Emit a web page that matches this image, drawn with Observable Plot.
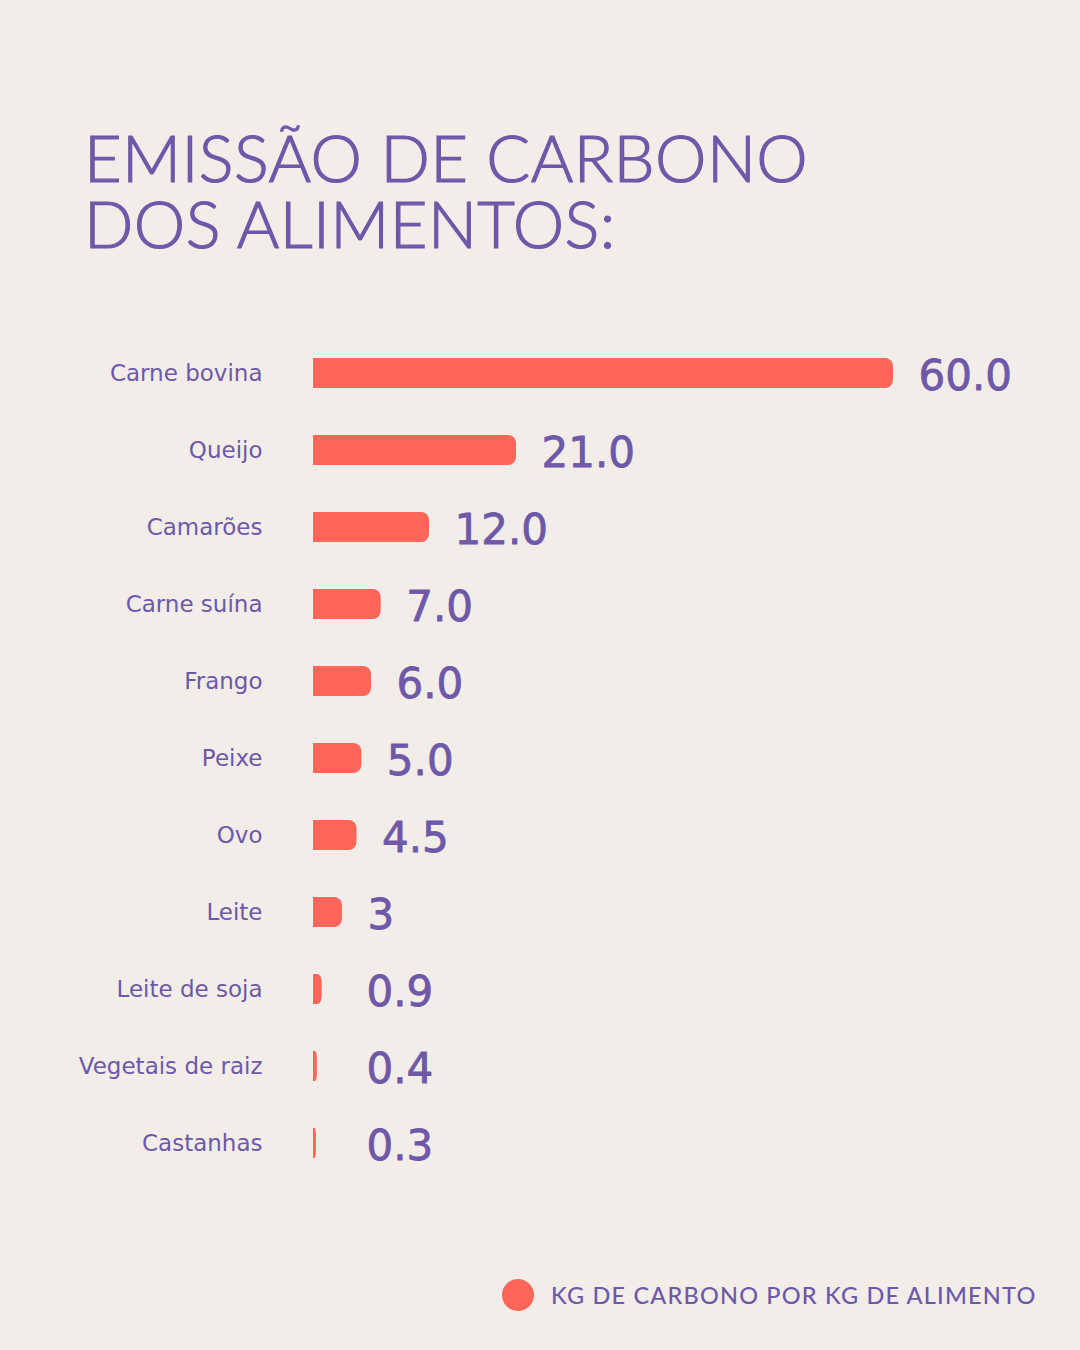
<!DOCTYPE html>
<html>
<head>
<meta charset="utf-8">
<script src="https://cdn.jsdelivr.net/npm/d3@7"></script>
<script src="https://cdn.jsdelivr.net/npm/@observablehq/plot@0.6"></script>
<style>
  html, body { margin: 0; padding: 0; background: #f2ede8; }
  body { width: 1080px; height: 1350px; position: relative; overflow: hidden; font-family: Lato, "Open Sans", sans-serif; }
  #title { position: absolute; left: 84px; top: 124px; color: #6e58a8; font-family: "Lato", sans-serif; font-weight: 300; font-size: 65px; line-height: 66px; letter-spacing: 0.4px; text-transform: uppercase; margin: 0; -webkit-text-stroke: 1.2px #6e58a8; }
  #title div { height: 66px; }
  #chart { position: absolute; left: 0; top: 300px; }
  #legend { position: absolute; left: 502px; top: 1279px; display: flex; align-items: center; gap: 17px; color: #6e58a8; font-size: 23.5px; font-weight: 500; letter-spacing: 1.2px; }
  #legend .dot { width: 32px; height: 32px; border-radius: 50%; background: #ff665a; }
</style>
</head>
<body>
<div id="title"><div>Emissão de carbono</div><div>dos alimentos:</div></div>
<div id="chart"></div>
<div id="legend"><div class="dot"></div><span>KG DE CARBONO POR KG DE ALIMENTO</span></div>
<script>
const foods = ["Carne bovina","Queijo","Camarões","Carne suína","Frango","Peixe","Ovo","Leite","Leite de soja","Vegetais de raiz","Castanhas"];
const emissions = [60, 21, 12, 7, 6, 5, 4.5, 3, 0.9, 0.4, 0.3];
const valueLabels = ["60.0","21.0","12.0","7.0","6.0","5.0","4.5","3","0.9","0.4","0.3"];

const data = foods.map((f, i) => ({food: f, value: emissions[i], label: valueLabels[i]}));
const purple = "#6e58a8";
const coral = "#ff665a";

const chart = Plot.plot({
  width: 1080,
  height: 920,
  marginLeft: 313,
  marginRight: 187,
  marginTop: 8,
  marginBottom: 12,
  style: {background: "transparent", fontFamily: "'DejaVu Sans', sans-serif", color: purple},
  x: {domain: [0, 60], axis: null},
  y: {domain: foods, padding: 0.613, label: null},
  marks: [
    Plot.barX(data, {y: "food", x: "value", fill: coral, rx: 8}),
    Plot.barX(data, {y: "food", x1: 0, x2: d => d.value / 2, fill: coral}),
    Plot.axisY({tickSize: 0, tickPadding: 51, fontSize: 23, fill: purple, stroke: purple, strokeWidth: 0.35, label: null}),
    Plot.text(data, {y: "food", x: d => Math.max(d.value, 2.9), text: "label", dx: 25, dy: 3, textAnchor: "start", fontSize: 42, fill: purple, stroke: purple, strokeWidth: 0.8})
  ]
});
document.getElementById("chart").appendChild(chart);
</script>
</body>
</html>
